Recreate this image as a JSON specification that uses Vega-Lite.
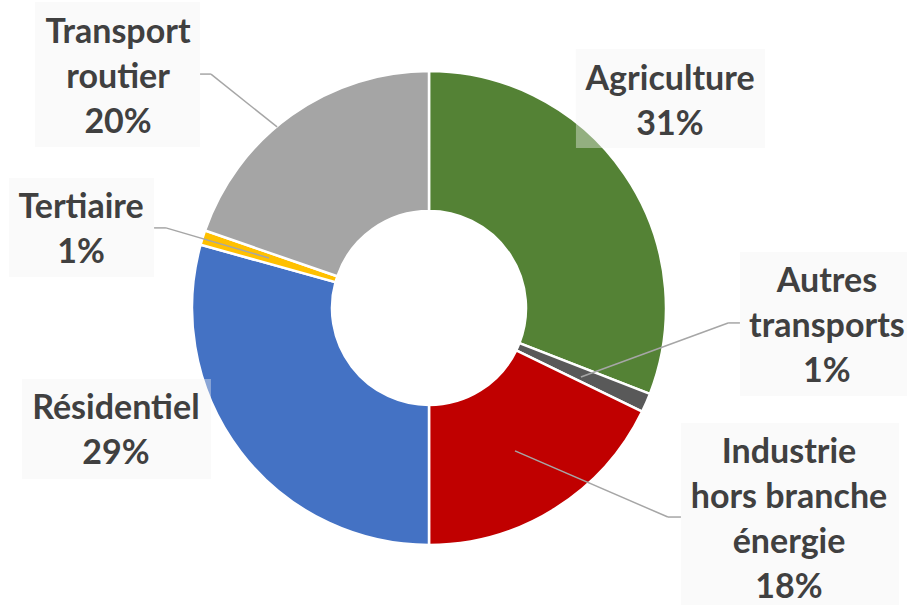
{
  "$schema": "https://vega.github.io/schema/vega-lite/v6.json",
  "width": 908,
  "height": 606,
  "padding": 0,
  "autosize": {"type": "fit", "contains": "padding"},
  "background": "white",
  "config": {
    "view": {"stroke": null},
    "axis": {"disable": true},
    "text": {"font": "Lato", "fontWeight": "bold", "fontSize": 34, "color": "#404040", "lineHeight": 45, "lineBreak": "\n", "align": "center", "baseline": "alphabetic"},
    "rect": {"color": "#f2f2f2", "opacity": 0.4},
    "rule": {"color": "#a6a6a6", "strokeWidth": 1.5}
  },
  "data": {
    "values": [
      {"category": "Agriculture", "value": 30.9, "label": "Agriculture\n31%"},
      {"category": "Autres transports", "value": 1.3, "label": "Autres\ntransports\n1%"},
      {"category": "Industrie hors branche énergie", "value": 17.8, "label": "Industrie\nhors branche\nénergie\n18%"},
      {"category": "Résidentiel", "value": 29.3, "label": "Résidentiel\n29%"},
      {"category": "Tertiaire", "value": 1.0, "label": "Tertiaire\n1%"},
      {"category": "Transport routier", "value": 19.7, "label": "Transport\nroutier\n20%"}
    ]
  },
  "layer": [
    {
      "mark": {"type": "arc", "innerRadius": 97, "outerRadius": 237, "stroke": "white", "strokeWidth": 2.5},
      "encoding": {
        "theta": {"field": "value", "type": "quantitative", "stack": true},
        "order": {"field": "category", "sort": "ascending"},
        "color": {
          "field": "category", "type": "nominal", "legend": null,
          "scale": {
            "domain": ["Agriculture", "Autres transports", "Industrie hors branche énergie", "Résidentiel", "Tertiaire", "Transport routier"],
            "range": ["#548235", "#595959", "#c00000", "#4472c4", "#ffc000", "#a5a5a5"]
          }
        },
        "x": {"datum": 0, "type": "quantitative", "scale": {"domain": [-1.8101, 2.0211], "nice": false, "zero": false}},
        "y": {"datum": 0, "type": "quantitative", "scale": {"domain": [-1.2574, 1.2996], "nice": false, "zero": false}}
      }
    },
    {
      "transform": [{"filter": {"field": "category", "equal": "Agriculture"}}],
      "layer": [
        {"mark": {"type": "rect"},
         "encoding": {"x": {"datum": 0.620, "type": "quantitative", "scale": {"domain": [-1.8101, 2.0211], "nice": false, "zero": false}}, "x2": {"datum": 1.418},
                      "y": {"datum": 1.093, "type": "quantitative", "scale": {"domain": [-1.2574, 1.2996], "nice": false, "zero": false}}, "y2": {"datum": 0.675}}},
        {"mark": {"type": "text"},
         "encoding": {"text": {"field": "label"},
                      "x": {"datum": 1.017, "type": "quantitative", "scale": {"domain": [-1.8101, 2.0211], "nice": false, "zero": false}},
                      "y": {"datum": 0.920, "type": "quantitative", "scale": {"domain": [-1.2574, 1.2996], "nice": false, "zero": false}}}}
      ]
    },
    {
      "transform": [{"filter": {"field": "category", "equal": "Autres transports"}}],
      "layer": [
        {"mark": {"type": "rule"},
         "encoding": {"x": {"datum": 1.312, "type": "quantitative", "scale": {"domain": [-1.8101, 2.0211], "nice": false, "zero": false}}, "x2": {"datum": 1.262},
                      "y": {"datum": -0.063, "type": "quantitative", "scale": {"domain": [-1.2574, 1.2996], "nice": false, "zero": false}}, "y2": {"datum": -0.063}}},
        {"mark": {"type": "rule"},
         "encoding": {"x": {"datum": 1.262, "type": "quantitative", "scale": {"domain": [-1.8101, 2.0211], "nice": false, "zero": false}}, "x2": {"datum": 0.641},
                      "y": {"datum": -0.063, "type": "quantitative", "scale": {"domain": [-1.2574, 1.2996], "nice": false, "zero": false}}, "y2": {"datum": -0.291}}},
        {"mark": {"type": "rect"},
         "encoding": {"x": {"datum": 1.312, "type": "quantitative", "scale": {"domain": [-1.8101, 2.0211], "nice": false, "zero": false}}, "x2": {"datum": 2.017},
                      "y": {"datum": 0.236, "type": "quantitative", "scale": {"domain": [-1.2574, 1.2996], "nice": false, "zero": false}}, "y2": {"datum": -0.371}}},
        {"mark": {"type": "text"},
         "encoding": {"text": {"field": "label"},
                      "x": {"datum": 1.679, "type": "quantitative", "scale": {"domain": [-1.8101, 2.0211], "nice": false, "zero": false}},
                      "y": {"datum": 0.068, "type": "quantitative", "scale": {"domain": [-1.2574, 1.2996], "nice": false, "zero": false}}}}
      ]
    },
    {
      "transform": [{"filter": {"field": "category", "equal": "Industrie hors branche énergie"}}],
      "layer": [
        {"mark": {"type": "rule"},
         "encoding": {"x": {"datum": 1.063, "type": "quantitative", "scale": {"domain": [-1.8101, 2.0211], "nice": false, "zero": false}}, "x2": {"datum": 1.008},
                      "y": {"datum": -0.882, "type": "quantitative", "scale": {"domain": [-1.2574, 1.2996], "nice": false, "zero": false}}, "y2": {"datum": -0.882}}},
        {"mark": {"type": "rule"},
         "encoding": {"x": {"datum": 1.008, "type": "quantitative", "scale": {"domain": [-1.8101, 2.0211], "nice": false, "zero": false}}, "x2": {"datum": 0.363},
                      "y": {"datum": -0.882, "type": "quantitative", "scale": {"domain": [-1.2574, 1.2996], "nice": false, "zero": false}}, "y2": {"datum": -0.603}}},
        {"mark": {"type": "rect"},
         "encoding": {"x": {"datum": 1.063, "type": "quantitative", "scale": {"domain": [-1.8101, 2.0211], "nice": false, "zero": false}}, "x2": {"datum": 1.983},
                      "y": {"datum": -0.485, "type": "quantitative", "scale": {"domain": [-1.2574, 1.2996], "nice": false, "zero": false}}, "y2": {"datum": -1.253}}},
        {"mark": {"type": "text"},
         "encoding": {"text": {"field": "label"},
                      "x": {"datum": 1.519, "type": "quantitative", "scale": {"domain": [-1.8101, 2.0211], "nice": false, "zero": false}},
                      "y": {"datum": -0.654, "type": "quantitative", "scale": {"domain": [-1.2574, 1.2996], "nice": false, "zero": false}}}}
      ]
    },
    {
      "transform": [{"filter": {"field": "category", "equal": "Résidentiel"}}],
      "layer": [
        {"mark": {"type": "rect"},
         "encoding": {"x": {"datum": -1.717, "type": "quantitative", "scale": {"domain": [-1.8101, 2.0211], "nice": false, "zero": false}}, "x2": {"datum": -0.920},
                      "y": {"datum": -0.300, "type": "quantitative", "scale": {"domain": [-1.2574, 1.2996], "nice": false, "zero": false}}, "y2": {"datum": -0.722}}},
        {"mark": {"type": "text"},
         "encoding": {"text": {"field": "label"},
                      "x": {"datum": -1.321, "type": "quantitative", "scale": {"domain": [-1.8101, 2.0211], "nice": false, "zero": false}},
                      "y": {"datum": -0.468, "type": "quantitative", "scale": {"domain": [-1.2574, 1.2996], "nice": false, "zero": false}}}}
      ]
    },
    {
      "transform": [{"filter": {"field": "category", "equal": "Tertiaire"}}],
      "layer": [
        {"mark": {"type": "rule"},
         "encoding": {"x": {"datum": -1.160, "type": "quantitative", "scale": {"domain": [-1.8101, 2.0211], "nice": false, "zero": false}}, "x2": {"datum": -1.110},
                      "y": {"datum": 0.338, "type": "quantitative", "scale": {"domain": [-1.2574, 1.2996], "nice": false, "zero": false}}, "y2": {"datum": 0.338}}},
        {"mark": {"type": "rule"},
         "encoding": {"x": {"datum": -1.110, "type": "quantitative", "scale": {"domain": [-1.8101, 2.0211], "nice": false, "zero": false}}, "x2": {"datum": -0.675},
                      "y": {"datum": 0.338, "type": "quantitative", "scale": {"domain": [-1.2574, 1.2996], "nice": false, "zero": false}}, "y2": {"datum": 0.211}}},
        {"mark": {"type": "rect"},
         "encoding": {"x": {"datum": -1.772, "type": "quantitative", "scale": {"domain": [-1.8101, 2.0211], "nice": false, "zero": false}}, "x2": {"datum": -1.160},
                      "y": {"datum": 0.549, "type": "quantitative", "scale": {"domain": [-1.2574, 1.2996], "nice": false, "zero": false}}, "y2": {"datum": 0.131}}},
        {"mark": {"type": "text"},
         "encoding": {"text": {"field": "label"},
                      "x": {"datum": -1.468, "type": "quantitative", "scale": {"domain": [-1.8101, 2.0211], "nice": false, "zero": false}},
                      "y": {"datum": 0.380, "type": "quantitative", "scale": {"domain": [-1.2574, 1.2996], "nice": false, "zero": false}}}}
      ]
    },
    {
      "transform": [{"filter": {"field": "category", "equal": "Transport routier"}}],
      "layer": [
        {"mark": {"type": "rule"},
         "encoding": {"x": {"datum": -0.966, "type": "quantitative", "scale": {"domain": [-1.8101, 2.0211], "nice": false, "zero": false}}, "x2": {"datum": -0.920},
                      "y": {"datum": 0.987, "type": "quantitative", "scale": {"domain": [-1.2574, 1.2996], "nice": false, "zero": false}}, "y2": {"datum": 0.987}}},
        {"mark": {"type": "rule"},
         "encoding": {"x": {"datum": -0.920, "type": "quantitative", "scale": {"domain": [-1.8101, 2.0211], "nice": false, "zero": false}}, "x2": {"datum": -0.641},
                      "y": {"datum": 0.987, "type": "quantitative", "scale": {"domain": [-1.2574, 1.2996], "nice": false, "zero": false}}, "y2": {"datum": 0.764}}},
        {"mark": {"type": "rect"},
         "encoding": {"x": {"datum": -1.662, "type": "quantitative", "scale": {"domain": [-1.8101, 2.0211], "nice": false, "zero": false}}, "x2": {"datum": -0.966},
                      "y": {"datum": 1.291, "type": "quantitative", "scale": {"domain": [-1.2574, 1.2996], "nice": false, "zero": false}}, "y2": {"datum": 0.679}}},
        {"mark": {"type": "text"},
         "encoding": {"text": {"field": "label"},
                      "x": {"datum": -1.312, "type": "quantitative", "scale": {"domain": [-1.8101, 2.0211], "nice": false, "zero": false}},
                      "y": {"datum": 1.118, "type": "quantitative", "scale": {"domain": [-1.2574, 1.2996], "nice": false, "zero": false}}}}
      ]
    }
  ]
}
